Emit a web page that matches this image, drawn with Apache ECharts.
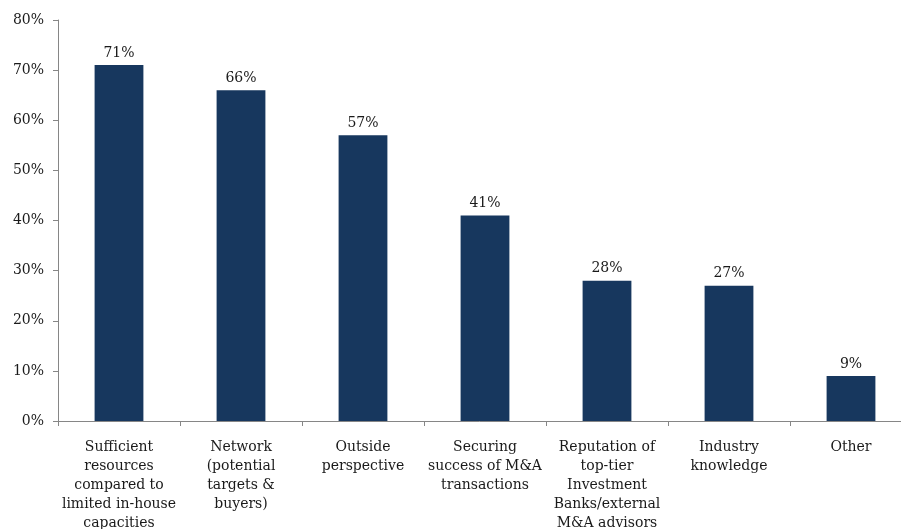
<!DOCTYPE html>
<html>
<head>
<meta charset="utf-8">
<script src="https://cdn.jsdelivr.net/npm/echarts@6/dist/echarts.min.js"></script>
<style>
  html, body { margin: 0; padding: 0; background: #fff; }
  #chart { width: 901px; height: 529px; }
</style>
</head>
<body>
<div id="chart"></div>
<script>
// Reasons for engaging external M&A advisors (share of respondents, %)
const categories = [
  'Sufficient\nresources\ncompared to\nlimited in-house\ncapacities',
  'Network\n(potential\ntargets &\nbuyers)',
  'Outside\nperspective',
  'Securing\nsuccess of M&A\ntransactions',
  'Reputation of\ntop-tier\nInvestment\nBanks/external\nM&A advisors',
  'Industry\nknowledge',
  'Other'
];
const shares = [71, 66, 57, 41, 28, 27, 9];
const yTicks = { min: 0, max: 80, step: 10 };

const FONT = '"DejaVu Serif", "Liberation Serif", serif';
const AXIS_GREY = '#868686';
const BAR_NAVY = '#17375e';

const chart = echarts.init(document.getElementById('chart'), null, { renderer: 'canvas' });
chart.setOption({
  animation: false,
  backgroundColor: '#ffffff',
  grid: {
    left: 58, top: 20, width: 854, height: 401,
    containLabel: false,
    outerBoundsMode: 'none'
  },
  xAxis: {
    type: 'category',
    data: categories,
    axisLine: { show: true, lineStyle: { color: AXIS_GREY, width: 1 } },
    axisTick: { show: true, alignWithLabel: false, length: 5, lineStyle: { color: AXIS_GREY } },
    axisLabel: {
      interval: 0,
      margin: 17,
      color: '#1a1a1a',
      fontFamily: FONT,
      fontSize: 14,
      lineHeight: 19,
      align: 'center'
    }
  },
  yAxis: {
    type: 'value',
    min: yTicks.min,
    max: yTicks.max,
    interval: yTicks.step,
    splitLine: { show: false },
    axisLine: { show: true, lineStyle: { color: AXIS_GREY, width: 1 } },
    axisTick: { show: true, length: 5, lineStyle: { color: AXIS_GREY } },
    axisLabel: {
      margin: 14,
      color: '#1a1a1a',
      fontFamily: FONT,
      fontSize: 14,
      formatter: v => v + '%'
    }
  },
  series: [{
    type: 'bar',
    data: shares,
    barWidth: '40%',
    itemStyle: { color: BAR_NAVY },
    label: {
      show: true,
      position: 'top',
      distance: 5,
      color: '#1a1a1a',
      fontFamily: FONT,
      fontSize: 14,
      formatter: p => p.value + '%'
    }
  }]
});
</script>
</body>
</html>
